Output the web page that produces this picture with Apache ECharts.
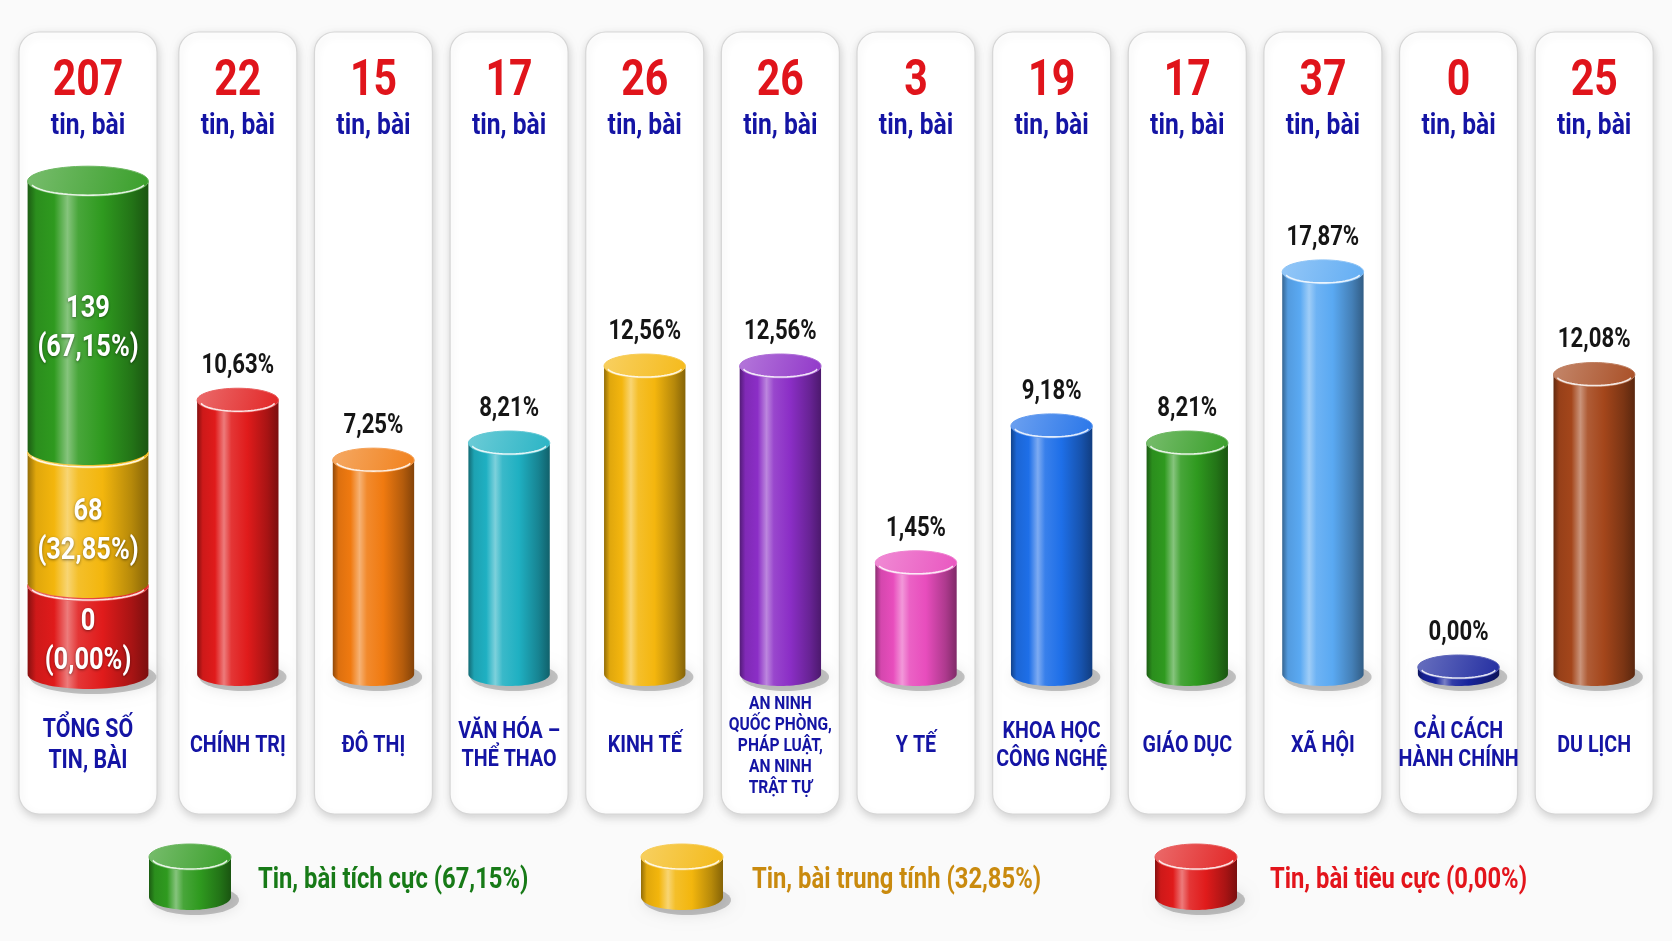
<!DOCTYPE html>
<html lang="vi">
<head>
<meta charset="utf-8">
<title>Tin, bài theo lĩnh vực</title>
<script src="https://cdn.jsdelivr.net/npm/echarts/dist/echarts.min.js"></script>
<style>
  html, body { margin: 0; padding: 0; background: #fafafa; }
  #chart { width: 1672px; height: 941px; }
</style>
</head>
<body>
<div id="chart"></div>
<script>
// values
const topics = [
  'CHÍNH TRỊ', 'ĐÔ THỊ', 'VĂN HÓA –\nTHỂ THAO', 'KINH TẾ',
  'AN NINH\nQUỐC PHÒNG,\nPHÁP LUẬT,\nAN NINH\nTRẬT TỰ',
  'Y TẾ', 'KHOA HỌC\nCÔNG NGHỆ', 'GIÁO DỤC', 'XÃ HỘI',
  'CẢI CÁCH\nHÀNH CHÍNH', 'DU LỊCH'
];
const topicCounts = [22, 15, 17, 26, 26, 3, 19, 17, 37, 0, 25];
const topicShares = [10.63, 7.25, 8.21, 12.56, 12.56, 1.45, 9.18, 8.21, 17.87, 0.00, 12.08];

const totalName = 'TỔNG SỐ\nTIN, BÀI';
const totalCount = 207;
const toneNames = ['Tin, bài tích cực', 'Tin, bài trung tính', 'Tin, bài tiêu cực'];
const toneCounts = [139, 68, 0];
const toneShares = [67.15, 32.85, 0.00];
const unitText = 'tin, bài';

// styles
const topicColors = ['#e01b1b', '#f07a10', '#1fb0c2', '#f4b60e', '#8b2ec6', '#e84dbd',
  '#1e6fe8', '#2f9a1f', '#5aa9f2', '#17239c', '#a4461b'];
const toneColors = ['#2f9a1f', '#f3b60d', '#e01b1b'];
const toneTextColors = ['#177a17', '#c98a0e', '#e3141b'];
const FONT = 'Roboto, "Noto Sans", sans-serif';
const NARROW = 0.82; // squeeze text to look like a condensed face
const NAVY = '#1414a4';

const TOTAL_MIN = -45, TOTAL_MAX = 270;
const MAIN_MIN = -10, MAIN_MAX = 62;
const CARD_TOP = 32, CARD_BOTTOM = 814;
const LABEL_Y = 746;

const fmtPct = v => v.toFixed(2).replace('.', ',') + '%';

function mix(hex, target, t) {
  const n = parseInt(hex.slice(1), 16);
  const f = c => Math.round(c + (target - c) * t);
  return 'rgb(' + f((n >> 16) & 255) + ',' + f((n >> 8) & 255) + ',' + f(n & 255) + ')';
}
const light = (c, t) => mix(c, 255, t);
const dark = (c, t) => mix(c, 0, t);

function arcPts(cx, cy, rx, ry, a0, a1, n) {
  const p = [];
  for (let k = 0; k <= n; k++) {
    const a = a0 + (a1 - a0) * k / n;
    p.push([cx + rx * Math.cos(a), cy + ry * Math.sin(a)]);
  }
  return p;
}

function label(x, y, text, size, color, extra) {
  return {
    type: 'text', x: x, y: y, scaleX: NARROW,
    style: Object.assign({ text: text, font: 'bold ' + size + 'px ' + FONT, fill: color,
      align: 'center', verticalAlign: 'middle' }, extra || {})
  };
}

// glossy cylinder made of plain shapes
function cylinder(cx, topY, botY, w, ry, color, withShadow) {
  const rx = w / 2;
  const els = [];
  if (withShadow) {
    els.push({
      type: 'polygon',
      shape: { points: arcPts(cx + 5, botY + 3, rx + 3, ry + 2, 0, 2 * Math.PI, 60) },
      style: { fill: 'rgba(0,0,0,0.22)', shadowBlur: 14, shadowColor: 'rgba(0,0,0,0.45)' }
    });
  }
  const body = [[cx - rx, topY]].concat(arcPts(cx, botY, rx, ry, Math.PI, 0, 40), [[cx + rx, topY]]);
  els.push({
    type: 'polygon',
    shape: { points: body },
    style: {
      fill: new echarts.graphic.LinearGradient(0, 0, 1, 0, [
        { offset: 0, color: dark(color, 0.4) },
        { offset: 0.07, color: dark(color, 0.08) },
        { offset: 0.22, color: color },
        { offset: 0.33, color: light(color, 0.42) },
        { offset: 0.42, color: light(color, 0.12) },
        { offset: 0.62, color: color },
        { offset: 0.86, color: dark(color, 0.25) },
        { offset: 1, color: dark(color, 0.45) }
      ])
    }
  });
  els.push({
    type: 'polygon',
    shape: { points: arcPts(cx, topY, rx, ry, 0, 2 * Math.PI, 60) },
    style: {
      fill: new echarts.graphic.LinearGradient(0, 0, 1, 1, [
        { offset: 0, color: light(color, 0.35) },
        { offset: 1, color: light(color, 0.05) }
      ]),
      stroke: light(color, 0.3),
      lineWidth: 1
    }
  });
  els.push({
    type: 'polyline',
    shape: { points: arcPts(cx, topY + 1, rx - 3, ry - 2, Math.PI * 0.93, Math.PI * 0.07, 30) },
    style: { stroke: 'rgba(255,255,255,0.85)', lineWidth: 1.6, fill: 'none' }
  });
  return els;
}

function card(cx, w, count, name) {
  const lines = name.split('\n').length;
  const small = lines > 3;
  return [
    {
      type: 'rect',
      shape: { x: cx - w / 2, y: CARD_TOP, width: w, height: CARD_BOTTOM - CARD_TOP, r: 20 },
      style: { fill: '#ffffff', stroke: '#d6d6d6', lineWidth: 1.2,
        shadowBlur: 8, shadowColor: 'rgba(0,0,0,0.16)', shadowOffsetY: 3, shadowOffsetX: 1 }
    },
    label(cx, 82, String(count), 50, '#e0141b'),
    label(cx, 126, unitText, 30, NAVY),
    label(cx, LABEL_Y, name, small ? 19 : (w > 130 ? 26 : 24), NAVY,
      { lineHeight: small ? 21 : (w > 130 ? 31 : 28) })
  ];
}

const chart = echarts.init(document.getElementById('chart'));

// stacked first column: tiêu cực at the bottom, then trung tính, then tích cực
const stackOrder = [2, 1, 0];
const toneSeries = stackOrder.map((k, p) => {
  const lower = p === 0 ? TOTAL_MIN : stackOrder.slice(0, p).reduce((s, j) => s + toneCounts[j], 0);
  return {
    type: 'custom',
    name: toneNames[k],
    xAxisIndex: 0, yAxisIndex: 0,
    z: 3 + p,
    clip: false,
    data: [[0, toneCounts[k]]],
    encode: { x: 0, y: 1 },
    renderItem: (params, api) => {
      const upper = (p === 0 ? 0 : lower) + api.value(1);
      const b = api.coord([0, lower]);
      const t = api.coord([0, upper]);
      const w = api.size([1, 0])[0] * 0.755;
      const botY = b[1] - (p > 0 ? 3 : 0);
      const children = cylinder(b[0], t[1], botY, w, 15, toneColors[k], p === 0);
      children.push(label(b[0], (t[1] + b[1]) / 2 + 12,
        api.value(1) + '\n(' + fmtPct(toneShares[k]) + ')', 31, '#ffffff',
        { lineHeight: 39, textShadowColor: 'rgba(0,0,0,0.45)', textShadowBlur: 3, textShadowOffsetY: 1 }));
      return { type: 'group', children };
    }
  };
});

const legendGraphics = [];
const legendIconX = [190, 682, 1196];
const legendTextX = [258, 752, 1270];
toneNames.forEach((name, k) => {
  legendGraphics.push({ type: 'group', children: cylinder(legendIconX[k], 857, 897, 82, 13, toneColors[k], true) });
  legendGraphics.push({
    type: 'text', x: legendTextX[k], y: 881, scaleX: NARROW,
    style: { text: name + ' (' + fmtPct(toneShares[k]) + ')', font: 'bold 29px ' + FONT,
      fill: toneTextColors[k], align: 'left', verticalAlign: 'middle' }
  });
});

chart.setOption({
  backgroundColor: '#fafafa',
  animation: false,
  grid: [
    { left: 8, width: 160, top: 58, bottom: 267 },
    { left: 170, right: 10, top: 58, bottom: 267 }
  ],
  xAxis: [
    { type: 'category', gridIndex: 0, data: [totalName], show: false },
    { type: 'category', gridIndex: 1, data: topics, show: false }
  ],
  yAxis: [
    { type: 'value', gridIndex: 0, min: TOTAL_MIN, max: TOTAL_MAX, show: false },
    { type: 'value', gridIndex: 1, min: MAIN_MIN, max: MAIN_MAX, show: false }
  ],
  graphic: legendGraphics,
  series: [
    {
      type: 'custom', name: 'card-total', xAxisIndex: 0, yAxisIndex: 0, z: 1, clip: false,
      data: [[0, totalCount]], encode: { x: 0, y: 1 },
      renderItem: (params, api) => {
        const cx = api.coord([0, 0])[0];
        return { type: 'group', children: card(cx, api.size([1, 0])[0] * 0.8625, api.value(1), totalName) };
      }
    },
    {
      type: 'custom', name: 'card-topic', xAxisIndex: 1, yAxisIndex: 1, z: 1, clip: false,
      data: topicCounts.map((v, i) => [i, v]), encode: { x: 0, y: 1 },
      renderItem: (params, api) => {
        const cx = api.coord([api.value(0), 0])[0];
        return { type: 'group', children: card(cx, api.size([1, 0])[0] * 0.87, api.value(1), topics[params.dataIndex]) };
      }
    },
    ...toneSeries,
    {
      type: 'custom', name: 'topics', xAxisIndex: 1, yAxisIndex: 1, z: 3, clip: false,
      data: topicCounts.map((v, i) => [i, v]), encode: { x: 0, y: 1 },
      renderItem: (params, api) => {
        const i = api.value(0), v = api.value(1);
        const base = api.coord([i, MAIN_MIN]);
        const botY = base[1];
        const topY = v > 0 ? api.coord([i, v])[1] : botY - 7;
        const w = api.size([1, 0])[0] * 0.6;
        const children = cylinder(base[0], topY, botY, w, 12, topicColors[params.dataIndex], true);
        children.push(label(base[0], topY - 34, fmtPct(topicShares[params.dataIndex]), 27, '#151515'));
        return { type: 'group', children };
      }
    }
  ]
});
</script>
</body>
</html>
